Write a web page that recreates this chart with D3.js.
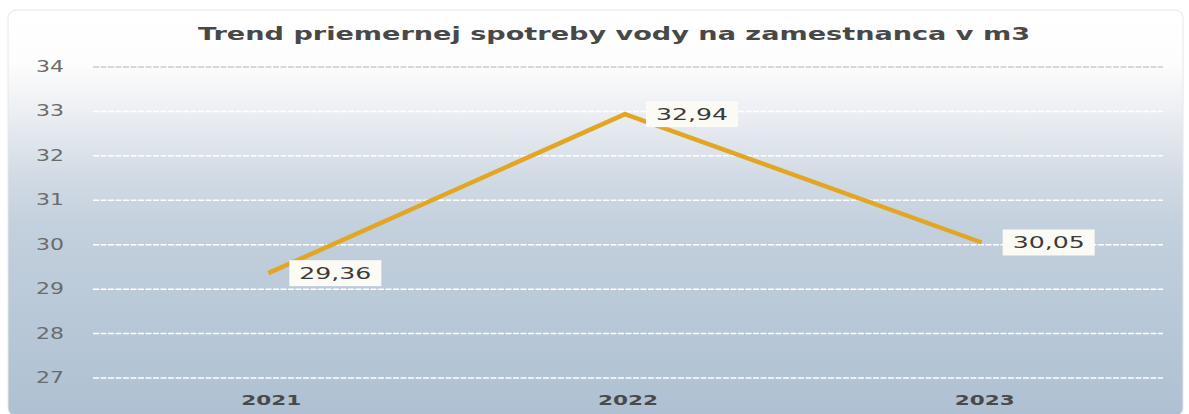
<!DOCTYPE html>
<html>
<head>
<meta charset="utf-8">
<script src="https://cdn.jsdelivr.net/npm/d3@7"></script>
<style>
  body { margin: 0; background: #fff; }
  svg { display: block; }
</style>
</head>
<body>
<div id="chart"></div>
<script>
var years = ["2021", "2022", "2023"];
var values = [29.36, 32.94, 30.05];
var valueLabels = ["29,36", "32,94", "30,05"];
var yTicks = [27, 28, 29, 30, 31, 32, 33, 34];
var title = "Trend priemernej spotreby vody na zamestnanca v m3";

var width = 1189, height = 414;
var margin = {top: 67, right: 26, bottom: 36, left: 93};

var x = d3.scalePoint()
    .domain(years)
    .range([margin.left, width - margin.right])
    .padding(0.5);
var y = d3.scaleLinear()
    .domain([27, 34])
    .range([height - margin.bottom, margin.top]);

var svg = d3.select("#chart").append("svg")
    .attr("width", width)
    .attr("height", height);

// background gradient, white at top fading to grey blue
var grad = svg.append("defs").append("linearGradient")
    .attr("id", "bg")
    .attr("x1", 0).attr("y1", 0).attr("x2", 0).attr("y2", 1);
grad.append("stop").attr("offset", "0%").attr("stop-color", "#ffffff");
grad.append("stop").attr("offset", "13%").attr("stop-color", "#fdfdfd");
grad.append("stop").attr("offset", "25%").attr("stop-color", "#eceff3");
grad.append("stop").attr("offset", "40%").attr("stop-color", "#d3dce5");
grad.append("stop").attr("offset", "53%").attr("stop-color", "#c3d0dd");
grad.append("stop").attr("offset", "100%").attr("stop-color", "#aec0d2");

svg.append("rect")
    .attr("x", 8).attr("y", 10)
    .attr("width", width - 14).attr("height", height - 8)
    .attr("rx", 8)
    .attr("fill", "url(#bg)")
    .attr("stroke", "#e6e6e6");

// title
svg.append("text")
    .attr("x", 614).attr("y", 40)
    .attr("text-anchor", "middle")
    .attr("textLength", 832)
    .attr("lengthAdjust", "spacingAndGlyphs")
    .style("font-family", "'DejaVu Sans', sans-serif")
    .style("font-weight", "bold")
    .style("font-size", "18px")
    .style("fill", "#484848")
    .text(title);

// gridlines
svg.append("g").selectAll("line")
    .data(yTicks)
    .enter().append("line")
    .attr("x1", margin.left).attr("x2", width - margin.right)
    .attr("y1", function(d) { return y(d); })
    .attr("y2", function(d) { return y(d); })
    .attr("stroke", function(d) { return d === 34 ? "#cccccc" : "#ffffff"; })
    .attr("stroke-width", 1.5)
    .attr("stroke-dasharray", "6,1.5");

// y tick labels
svg.append("g").selectAll("text")
    .data(yTicks)
    .enter().append("text")
    .attr("x", 50)
    .attr("y", function(d) { return y(d) + 5; })
    .attr("text-anchor", "middle")
    .attr("textLength", 28)
    .attr("lengthAdjust", "spacingAndGlyphs")
    .style("font-family", "'DejaVu Sans', sans-serif")
    .style("font-size", "15px")
    .style("fill", "#6b6b6b")
    .text(function(d) { return d; });

// x labels
svg.append("g").selectAll("text")
    .data(years)
    .enter().append("text")
    .attr("x", function(d) { return x(d); })
    .attr("y", 405)
    .attr("text-anchor", "middle")
    .attr("textLength", 60)
    .attr("lengthAdjust", "spacingAndGlyphs")
    .style("font-family", "'DejaVu Sans', sans-serif")
    .style("font-weight", "bold")
    .style("font-size", "14px")
    .style("fill", "#4a4a4a")
    .text(function(d) { return d; });

// line
var pts = years.map(function(d, i) { return {year: d, value: values[i], label: valueLabels[i]}; });
var line = d3.line()
    .x(function(d) { return x(d.year) - 3; })
    .y(function(d) { return y(d.value); });
svg.append("path")
    .datum(pts)
    .attr("d", line)
    .attr("fill", "none")
    .attr("stroke", "#e2a623")
    .attr("stroke-width", 4.5)
    .attr("stroke-linejoin", "round");

// value labels
var lab = svg.append("g").selectAll("g")
    .data(pts)
    .enter().append("g")
    .attr("transform", function(d) { return "translate(" + (x(d.year) + 18) + "," + y(d.value) + ")"; });
lab.append("rect")
    .attr("x", 0).attr("y", -13)
    .attr("width", 92).attr("height", 26)
    .attr("fill", "#fbfaf4");
lab.append("text")
    .attr("x", 46).attr("y", 6)
    .attr("text-anchor", "middle")
    .attr("textLength", 72)
    .attr("lengthAdjust", "spacingAndGlyphs")
    .style("font-family", "'DejaVu Sans', sans-serif")
    .style("font-size", "16px")
    .style("fill", "#3a3a3a")
    .text(function(d) { return d.label; });
</script>
</body>
</html>
